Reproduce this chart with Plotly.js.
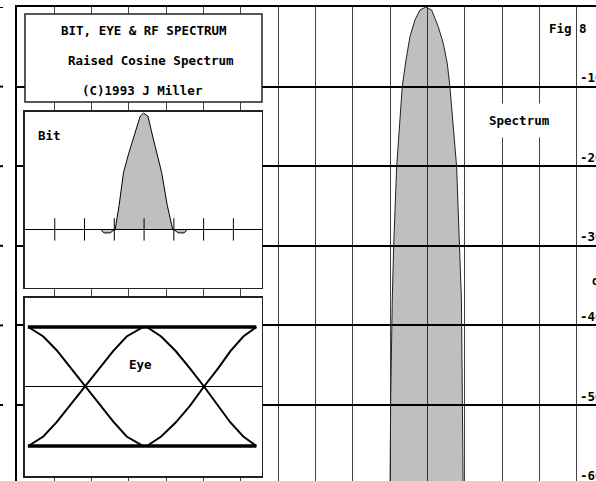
<!DOCTYPE html>
<html>
<head>
<meta charset="utf-8">
<script src="https://cdn.plot.ly/plotly-3.0.1.min.js"></script>
<style>
  html, body { margin: 0; padding: 0; background: #fff; }
  #plot { width: 596px; height: 481px; }
</style>
</head>
<body>
<div id="plot"></div>
<script>
// RF spectrum, frequency in grid units (0 = carrier), level in dB
let specFreq = [-1.01, -0.99, -0.948, -0.91, -0.83, -0.68, -0.58, -0.474, -0.34, -0.206, -0.05,
                0.107, 0.284, 0.418, 0.525, 0.597, 0.777, 0.865, 0.905, 0.93, 0.954];
let specDb   = [-62, -49.4, -36.8, -30.1, -20.1, -10.0, -6.66, -3.73, -1.63, -0.38, 0,
                -0.38, -2.47, -4.56, -7.07, -10.0, -20.1, -30.1, -36.8, -49.4, -62];
let dbTicks  = [-10, -20, -30, -40, -50, -60];
let dbLabels = ["-10", "-20", "-30", "-40", "-50", "-60"];
let leftMarks = [0, -10, -20, -30, -40, -50];

// single bit pulse (time in ticks, normalised amplitude)
let bitX = [-1.45, -1.35, -1.15, -1.04, -0.97, -0.84, -0.69, -0.52, -0.36, -0.13, -0.02,
            0.13, 0.31, 0.45, 0.59, 0.78, 0.96, 1.04, 1.15, 1.35, 1.45];
let bitY = [0, -0.03, -0.03, -0.01, 0, 0.205, 0.49, 0.65, 0.778, 0.974, 1.0,
            0.974, 0.778, 0.64, 0.49, 0.205, 0, -0.01, -0.03, -0.03, 0];
let bitTicks = [-3, -2, -1, 0, 1, 2, 3];

// eye diagram (time in bit periods, level)
let eyeT1    = [-0.976, -0.85, -0.738, -0.626, -0.5, -0.374, -0.262, -0.15, -0.01];
let eyeFall1 = [1.0, 0.84, 0.61, 0.33, 0.0, -0.31, -0.59, -0.84, -1.0];
let eyeRise1 = [-1.0, -0.84, -0.6, -0.32, 0.0, 0.31, 0.6, 0.84, 1.0];
let eyeT2    = [0.02, 0.14, 0.26, 0.38, 0.5, 0.62, 0.72, 0.83, 0.94];
let eyeFall2 = [1.0, 0.84, 0.6, 0.31, 0.0, -0.32, -0.6, -0.84, -1.0];
let eyeRise2 = [-1.0, -0.84, -0.61, -0.33, 0.0, 0.31, 0.59, 0.84, 1.0];
let railT    = [-0.98, 0.94];
let railHigh = [1, 1];
let railLow  = [-1, -1];

let font = {family: '"DejaVu Sans Mono", monospace', size: 12.5, color: "#000", weight: "bold"};
let shade = "rgba(0,0,0,0.25)";

// traces
let spectrum = {
    x: specFreq, y: specDb, xaxis: "x", yaxis: "y",
    mode: "lines", fill: "toself", fillcolor: shade,
    line: {color: "#222", width: 1}, hoverinfo: "skip"
};
let bit = {
    x: bitX, y: bitY, xaxis: "x2", yaxis: "y2",
    mode: "lines", fill: "tozeroy", fillcolor: shade,
    line: {color: "#000", width: 1}
};
let bitTickMarks = {
    x: bitTicks, y: bitTicks.map(() => 0), xaxis: "x2", yaxis: "y2",
    mode: "markers",
    marker: {symbol: "line-ns", size: 16, line: {color: "#000", width: 1}}
};
let eyeLine = (x, y, w) => ({
    x: x, y: y, xaxis: "x3", yaxis: "y3", mode: "lines",
    line: {color: "#000", width: w}
});

let data = [
    spectrum, bit, bitTickMarks,
    eyeLine(eyeT1, eyeFall1, 2), eyeLine(eyeT1, eyeRise1, 2),
    eyeLine(eyeT2, eyeFall2, 2), eyeLine(eyeT2, eyeRise2, 2),
    eyeLine(railT, railHigh, 3.5), eyeLine(railT, railLow, 3.5)
];

// inset box helpers
let boxAxis = (extra) => Object.assign({
    showgrid: false, zeroline: false, showticklabels: false, ticks: "",
    showline: true, mirror: true, linecolor: "#222", linewidth: 1.5, fixedrange: true
}, extra);

// annotations
let notes = [
    {xref: "paper", yref: "paper", x: 0.2202, y: 0.9494, text: "BIT, EYE & RF SPECTRUM"},
    {xref: "paper", yref: "paper", x: 0.2306, y: 0.8861, text: "Raised Cosine Spectrum"},
    {xref: "paper", yref: "paper", x: 0.2159, y: 0.8228, text: "(C)1993 J Miller"},
    {xref: "x2", yref: "y2", x: -3.19, y: 0.81, text: "Bit"},
    {xref: "x3", yref: "y3", x: -0.034, y: 0.37, text: "Eye"},
    {xref: "x", yref: "y", x: 2.47, y: -14.2, text: "Spectrum", bgcolor: "#fff", borderpad: 9},
    {xref: "x", yref: "y", x: 3.77, y: -2.64, text: "Fig 8"},
    {xref: "x", yref: "y", x: 4.35, y: -34.4, text: "dB", xanchor: "left"}
];
dbTicks.forEach((v, i) => notes.push({
    xref: "x", yref: "y", x: 4.03, y: v + 1.12, text: dbLabels[i], xanchor: "left"
}));
notes.forEach(n => {
    n.showarrow = false;
    n.font = font;
    n.yanchor = "middle";
    if (!n.xanchor) n.xanchor = "center";
});

// title box and the stray left-edge marks
let shapes = [{
    type: "rect", xref: "paper", yref: "paper", layer: "above",
    x0: 0.0138, x1: 0.4231, y0: 0.7996, y1: 0.9852,
    fillcolor: "#fff", line: {color: "#222", width: 1.5}
}];
leftMarks.forEach(v => shapes.push({
    type: "line", xref: "paper", yref: "y", layer: "above",
    x0: -0.0294, x1: -0.0242, y0: v, y1: v,
    line: {color: "#000", width: 2}
}));

let layout = {
    width: 596, height: 481,
    margin: {l: 17, r: 0, t: 7, b: 0, pad: 0},
    paper_bgcolor: "#fff", plot_bgcolor: "#fff",
    showlegend: false,
    xaxis: {
        range: [-11, 4.51], dtick: 1, tick0: 0, side: "top",
        showgrid: true, gridcolor: "#444", gridwidth: 1,
        zeroline: false, showticklabels: false, ticks: "",
        showline: true, linecolor: "#000", linewidth: 2, fixedrange: true
    },
    yaxis: {
        range: [-59.55, 0], dtick: 10, tick0: 0,
        showgrid: true, gridcolor: "#000", gridwidth: 2,
        zeroline: false, showticklabels: false, ticks: "",
        showline: true, linecolor: "#000", linewidth: 2, fixedrange: true
    },
    xaxis2: boxAxis({domain: [0.0138, 0.4231], anchor: "y2", range: [-4, 3.96]}),
    yaxis2: boxAxis({domain: [0.4072, 0.7785], anchor: "x2", range: [-0.504, 1.01],
                     zeroline: true, zerolinecolor: "#000", zerolinewidth: 1.5}),
    xaxis3: boxAxis({domain: [0.0138, 0.4231], anchor: "y3", range: [-1.004, 0.987]}),
    yaxis3: boxAxis({domain: [0.0105, 0.3861], anchor: "x3", range: [-1.504, 1.487],
                     zeroline: true, zerolinecolor: "#000", zerolinewidth: 1}),
    annotations: notes,
    shapes: shapes
};

Plotly.newPlot("plot", data, layout, {displayModeBar: false, staticPlot: true});
</script>
</body>
</html>
